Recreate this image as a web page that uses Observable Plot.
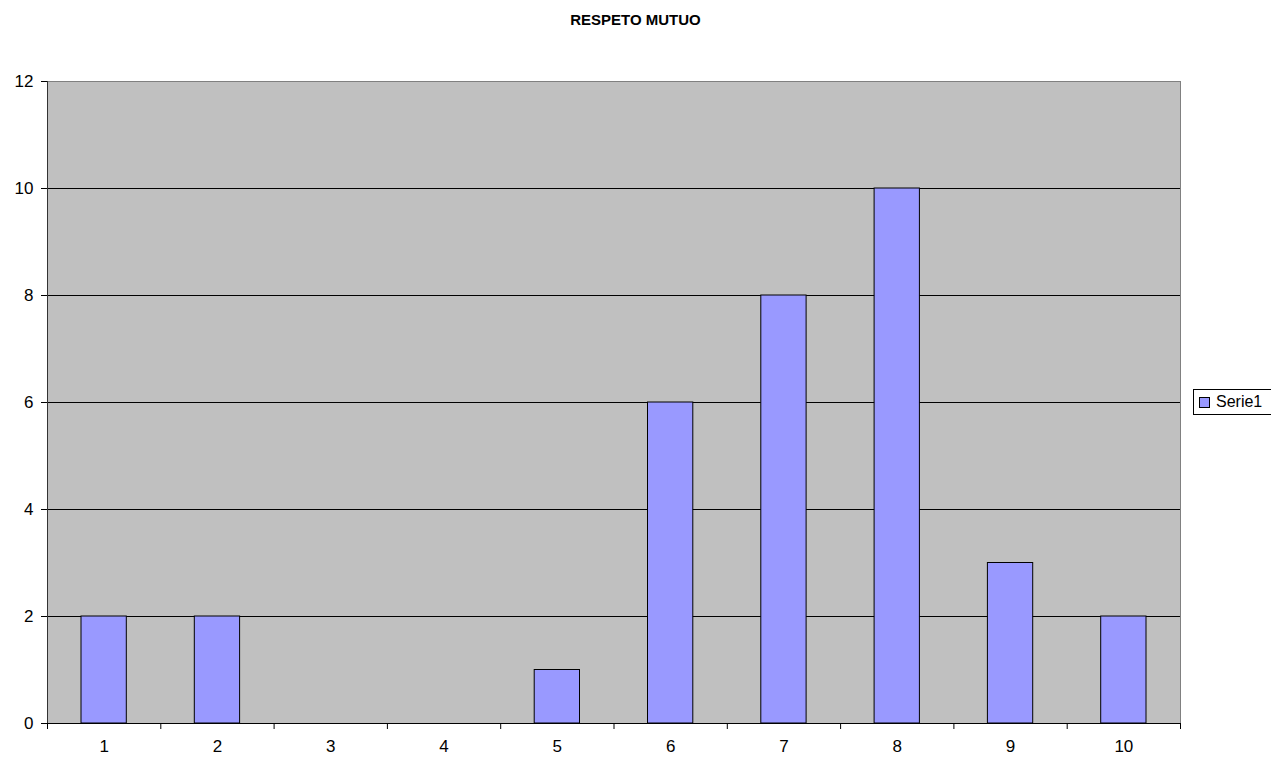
<!DOCTYPE html>
<html>
<head>
<meta charset="utf-8">
<script src="https://cdn.jsdelivr.net/npm/d3@7"></script>
<script src="https://cdn.jsdelivr.net/npm/@observablehq/plot@0.6"></script>
<style>
  html, body { margin: 0; padding: 0; background: #fff; }
  #wrap { position: relative; width: 1271px; height: 760px; font-family: "Liberation Sans", Arial, sans-serif; overflow: hidden; }
  #title { position: absolute; left: 0; width: 1271px; top: 11px; text-align: center; font-weight: bold; font-size: 15px; color: #000; }
  #legend { position: absolute; left: 1193px; top: 389px; width: 90px; height: 26px; border: 1px solid #000; box-sizing: border-box; background: #fff; font-size: 16px; }
  #legend .sw { position: absolute; left: 5px; top: 7px; width: 11px; height: 11px; box-sizing: border-box; background: #9999ff; border: 1px solid #000; }
  #legend .lb { position: absolute; left: 22px; top: 3px; color: #000; }
  svg { position: absolute; left: 0; top: 0; }
</style>
</head>
<body>
<div id="wrap">
  <div id="chart"></div>
  <div id="title">RESPETO MUTUO</div>
  <div id="legend"><span class="sw"></span><span class="lb">Serie1</span></div>
</div>
<script>
const categories = [1, 2, 3, 4, 5, 6, 7, 8, 9, 10];
const values = [2, 2, 0, 0, 1, 6, 8, 10, 3, 2];
const yTicks = [0, 2, 4, 6, 8, 10, 12];
const seriesName = "Serie1";

const data = categories.map((c, i) => ({cat: c, v: values[i]}));
const bars = data.filter(d => d.v > 0);
const boundaries = categories.map(c => c - 0.5).concat([categories[categories.length - 1] + 0.5]);

const chart = Plot.plot({
  width: 1271,
  height: 760,
  marginLeft: 47,
  marginRight: 91,
  marginTop: 81,
  marginBottom: 37,
  style: {fontFamily: "'Liberation Sans', Arial, sans-serif", fontSize: "17px", color: "#000", background: "transparent"},
  x: {domain: [0.5, 10.5], label: null},
  y: {domain: [0, 12], label: null},
  marks: [
    Plot.frame({fill: "#c0c0c0", stroke: "#808080"}),
    Plot.ruleY(yTicks.filter(t => t > 0 && t < 12), {stroke: "#000", strokeWidth: 1}),
    Plot.rectY(bars, {x1: d => d.cat - 0.5, x2: d => d.cat + 0.5, y1: 0, y2: "v", insetLeft: 34, insetRight: 34, fill: "#9999ff", stroke: "#000", strokeWidth: 1}),
    Plot.ruleX(boundaries, {x: d => d, y1: 0, y2: 0, insetBottom: -6, stroke: "#000"}),
    Plot.ruleY([0], {stroke: "#000"}),
    Plot.ruleX([0.5], {stroke: "#333"}),
    Plot.axisY({ticks: yTicks, tickSize: 6, tickPadding: 8, fontSize: 17, tickFormat: d => String(d), stroke: "#000", fill: "#000"}),
    Plot.axisX({ticks: categories, tickSize: 0, tickPadding: 16, fontSize: 17, tickFormat: d => String(d), fill: "#000"})
  ]
});
document.getElementById("chart").appendChild(chart);
</script>
</body>
</html>
